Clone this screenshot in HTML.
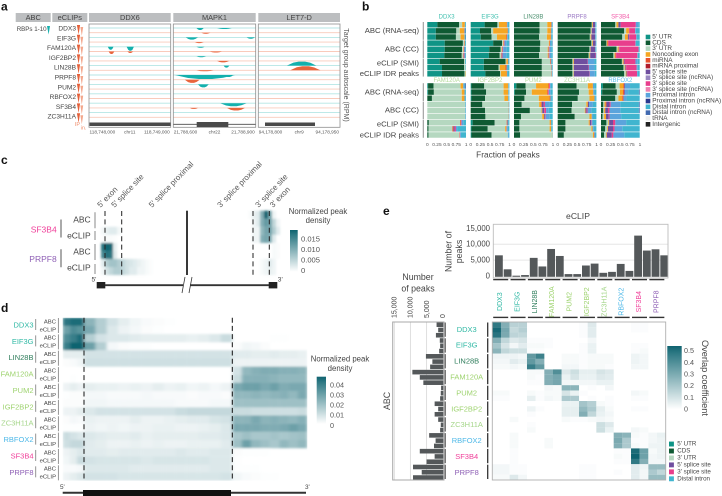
<!DOCTYPE html>
<html lang="en">
<head>
<meta charset="utf-8">
<title>RBP peak panels</title>
<style>
html,body{margin:0;padding:0;background:#fff;}
svg{display:block;font-family:"Liberation Sans",sans-serif;}
text{fill:#4a4a4a;}
</style>
</head>
<body>
<svg id="fig" width="722" height="496" viewBox="0 0 722 496" xmlns="http://www.w3.org/2000/svg">
<defs>
<filter id="blurC" x="-10%" y="-10%" width="120%" height="120%"><feGaussianBlur stdDeviation="1.1"/></filter>
<filter id="blurD" x="-5%" y="-5%" width="110%" height="110%"><feGaussianBlur stdDeviation="1.6 1"/></filter>
<clipPath id="clipD"><rect x="62.7" y="317.7" width="244.6" height="163"/></clipPath>
<linearGradient id="legendGrad" x1="0" y1="1" x2="0" y2="0"><stop offset="0" stop-color="#fff"/><stop offset="0.88" stop-color="#2f7a85"/><stop offset="1" stop-color="#0f6370"/></linearGradient>
</defs>
<g id="panelA"></g>
<g id="panelB"></g>
<g id="panelC"></g>
<g id="panelD"></g>
<g id="panelE"></g>
</svg>
<script>
/* ---------- shared data ---------- */
const rbpOrderE = ["DDX3","EIF3G","LIN28B","FAM120A","PUM2","IGF2BP2","ZC3H11A","RBFOX2","SF3B4","PRPF8"];
const rbpColorsE = ["#2fb8a4","#2fb8a4","#2e7d5b","#9ed36f","#9ed36f","#9ed36f","#a5d68a","#4db8e8","#f0409a","#8e5fb5"];

/* panel a */
const aRbps = ["DDX3","EIF3G","FAM120A","IGF2BP2","LIN28B","PRPF8","PUM2","RBFOX2","SF3B4","ZC3H11A"];
const aLoci = ["DDX6","MAPK1","LET7-D"];
const aLeftTicks = ["118,748,000","21,788,600","94,178,800"];
const aChromosomes = ["chr11","chr22","chr9"];
const aRightTicks = ["118,749,000","21,788,900","94,178,950"];
/* peak: locus, track, start %, end %, height (negative = mound above line) */
const aPeaks = [
 [0,4,23,30,3],[0,4,46,55,4],[0,5,24,31,2.5],[0,5,47,54,1.5],
 [1,0,28,37,2],[1,0,53,71,1],[1,1,34,45,1],[1,2,15,30,2.2],[1,2,89,99,1.4],[1,3,26,37,1],
 [1,4,28,38,1],[1,5,44,59,1],[1,6,28,40,1],[1,7,53,68,1.5],[1,8,61,68,2],[1,9,28,49,1],
 [1,10,2,75,4],[1,10,61,73,2],[1,11,14,32,3.2],[1,12,30,43,3],[1,16,57,89,3],[1,17,65,87,2.6],[1,17,20,30,1],
 [2,8,35,71,-4],[2,9,39,76,-4]
];
/* panel b */
const bLegend = ["5' UTR","CDS","3' UTR","Noncoding exon","miRNA","miRNA proximal","5' splice site","5' splice site (ncRNA)","3' splice site","3' splice site (ncRNA)","Proximal intron","Proximal intron (ncRNA)","Distal intron","Distal intron (ncRNA)","tRNA","Intergenic"];
const bLegendColors = ["#0f9486","#0f5a33","#b5d8c0","#f5a623","#e8502e","#b11c2c","#6f4e9f","#9987c0","#e83e8c","#ef7fb0","#5ba4dc","#2b3a8f","#40b5cf","#4169b0","#eeeeee","#222222"];
const bSegmentIdx = [0,1,2,3,4,6,8,10,12];
const bGroupLabels = ["ABC (RNA-seq)","ABC (CC)","eCLIP (SMI)","eCLIP IDR peaks"];
const bTicks = ["0","0.25","0.5","0.75"];
const bTopNames = ["DDX3","EIF3G","LIN28B","PRPF8","SF3B4"];
const bTopColors = ["#3fbfae","#3fbfae","#4a8f6e","#9a78c4","#f25aa8"];
const bBottomNames = ["FAM120A","IGF2BP2","PUM2","ZC3H11A","RBFOX2"];
const bBottomColors = ["#b4d99a","#b4d99a","#b4d99a","#b9dca6","#5cc0ea"];
/* each row: 5'UTR, CDS, 3'UTR, ncExon, miRNA, 5'ss, 3'ss, prox, distal */
const bDDX3 = [[.26,.56,.08,.07,0,0,0,.01,.02],[.22,.53,.09,.11,.01,0,0,.01,.02],[.22,.52,.12,.1,0,0,0,.01,.02],[.45,.47,.03,.01,.01,0,0,.01,.02],[.45,.45,.03,.01,.01,.01,0,.02,.02],[.44,.45,.03,.01,.01,.01,.01,.02,.02],[.32,.63,.03,0,0,0,0,0,.02],[.38,.57,.04,0,0,0,0,0,.01],[.38,.58,.03,.01,0,0,0,0,0]];
const bEIF3G = [[.36,.33,.04,.2,.01,0,0,.02,.04],[.24,.29,.05,.37,.01,0,0,.01,.03],[.26,.28,.14,.24,.02,0,0,.02,.04],[.58,.23,.03,.01,.01,.01,.01,.05,.06],[.48,.29,.03,.01,.01,.01,.01,.08,.08],[.47,.28,.03,.01,.01,.02,.01,.09,.08],[.34,.56,.02,.04,.01,0,0,0,.03],[.34,.38,.03,.15,.03,0,0,.02,.05],[.38,.38,.02,.15,.01,0,0,.01,.05]];
const bLIN28B = [[0,.66,.2,.1,.01,0,0,.01,.02],[0,.66,.2,.09,.01,0,0,.01,.03],[0,.65,.2,.1,.01,0,0,.01,.03],[0,.68,.22,.02,.01,0,0,.03,.03],[0,.67,.2,.02,.01,.01,.01,.04,.04],[0,.65,.22,.02,.01,.01,.01,.04,.04],[0,.72,.22,0,.02,0,0,.01,.03],[0,.72,.24,0,.01,0,0,.01,.02],[0,.72,.25,0,.01,0,0,.01,.01]];
const bPRPF8 = [[0,.88,.01,.02,0,.06,0,.01,.02],[0,.85,.02,.01,0,.09,0,.01,.02],[0,.83,.02,.02,0,.1,0,.01,.02],[0,.87,.02,.02,0,.07,0,.01,.01],[0,.82,.02,.01,0,.12,0,.01,.02],[0,.8,.02,.02,0,.14,.01,0,.01],[0,.38,.02,.02,0,.35,.01,.17,.05],[0,.38,.03,.01,0,.38,.01,.14,.05],[0,.38,.03,.01,0,.4,.01,.13,.04]];
const bSF3B4 = [[0,.37,.03,.05,0,.06,.39,.06,.04],[0,.6,.05,.07,.01,0,.15,.02,.1],[0,.55,.07,.07,.01,.03,.18,.02,.07],[0,.14,.01,.02,.02,0,.7,.01,.1],[0,.4,.03,.03,0,.01,.5,.01,.02],[0,.32,.03,.02,.02,0,.55,.01,.05],[0,.54,.02,.02,.01,.02,.28,.06,.05],[0,.58,.03,.02,0,.02,.27,.03,.05],[0,.6,.04,.02,0,.02,.25,.02,.05]];
const bFAM120A = [[.02,.14,.7,.07,0,0,0,.03,.02],[.02,.15,.72,.07,0,0,0,.02,.02],[0,.12,.77,.07,0,0,0,.02,.02],[0,0,.98,0,0,0,0,.01,.01],[0,0,.98,0,0,0,0,.01,.01],[0,0,.98,0,0,0,0,.01,.01],[0,.04,.81,0,.02,.01,.01,.04,.07],[0,.03,.62,0,.03,.03,.03,.03,.23],[0,.03,.8,0,.01,0,.01,.02,.13]];
const bIGF2BP2 = [[.02,.33,.5,.12,0,0,0,.01,.02],[.02,.38,.45,.12,0,0,0,.01,.02],[.02,.35,.5,.1,0,0,0,.01,.02],[0,.3,.67,.01,0,0,0,.01,.01],[0,.37,.6,.01,0,0,0,.01,.01],[0,.38,.59,.01,0,0,0,.01,.01],[.05,.57,.31,0,.02,0,0,.02,.03],[.02,.42,.45,.03,.01,0,0,.03,.04],[.02,.52,.42,0,0,0,0,.02,.02]];
const bPUM2 = [[.06,.24,.27,.32,.02,0,.02,.02,.05],[.02,.29,.15,.4,.02,0,.02,.05,.05],[0,.27,.37,.28,.02,0,0,.02,.04],[0,.2,.45,.05,.02,.05,.03,.12,.08],[0,.41,.3,.02,.0,.05,.05,.07,.1],[0,.18,.55,.05,0,.03,.01,.1,.08],[0,.14,.78,.03,.01,0,0,0,.04],[0,.14,.78,.04,0,0,0,.01,.03],[0,.16,.82,.01,0,0,0,0,.01]];
const bZC3H11A = [[0,.49,.29,.13,0,0,0,.03,.06],[0,.55,.25,.12,0,0,0,.03,.05],[0,.52,.3,.13,0,0,0,.02,.03],[0,.37,.37,.04,0,.03,0,.1,.09],[0,.36,.34,.02,0,.03,.02,.1,.13],[0,.44,.38,.06,0,0,0,.03,.09],[0,.2,.6,.03,0,.04,.01,.03,.09],[0,.2,.67,.03,0,0,0,.03,.07],[0,.16,.75,.03,0,0,.01,0,.05]];
const bRBFOX2 = [[.05,.33,.1,.1,.02,.02,0,.13,.25],[.03,.38,.08,.08,.03,.02,0,.08,.28],[0,.37,.08,.1,.03,0,0,.08,.34],[0,.06,.03,.03,.02,.08,.03,.25,.48],[0,.06,.02,.03,0,.07,.04,.28,.48],[0,.04,.04,.05,0,.07,.02,.3,.48],[0,.14,.05,.02,0,.1,.06,.28,.35],[0,.11,.05,.02,0,.13,.04,.2,.45],[0,.08,.05,.02,0,.13,.04,.28,.4]];
const bTopPanels = [bDDX3,bEIF3G,bLIN28B,bPRPF8,bSF3B4];
const bBottomPanels = [bFAM120A,bIGF2BP2,bPUM2,bZC3H11A,bRBFOX2];

/* panel c : density per bin, left of exon block and right of it */
const cLeftDensity = [
 [0,0,0,0,0,0,0,0,0,0,0,0,0,0,0,0],
 [0,0,0,0,0,0,0,0,0,0,0,0,0,0,0,0],
 [0,.0008,.0015,.002,.002,.0008,0,0,0,0,0,0,0,0,0,0],
 [0,.0002,.0004,.0004,.0002,0,0,0,0,0,0,0,0,0,0,0],
 [0,.014,.0155,.015,.0015,0,0,0,0,0,0,0,0,0,0,0],
 [0,.012,.014,.0135,.002,0,0,0,0,0,0,0,0,0,0,0],
 [0,.002,.005,.006,.006,.005,.004,.003,.0025,.002,.0015,.001,.0005,.0002,0,0],
 [0,.001,.003,.004,.005,.005,.004,.003,.002,.002,.001,.001,.0005,.0002,0,0]
];
const cRightDensity = [
 [0,0,.0003,.0015,.002,.008,.0155,.009,.001,0],
 [0,0,0,.001,.002,.008,.01,.009,.004,.001],
 [0,0,0,.001,.001,.007,.009,.009,.005,.002],
 [0,0,0,.001,.001,.008,.009,.008,.002,0],
 [0,0,0,0,0,0,0,0,.0005,.0003],
 [0,0,0,0,0,0,0,0,.0005,.0003],
 [0,0,0,0,0,.0005,.001,.002,.001,0],
 [0,0,0,0,0,.0005,.001,.0015,.001,0]
];
const cSiteLabels = ["5' exon","5' splice site","5' splice proximal","3' splice proximal","3' splice site","3' exon"];
const cLegendTicks = ["0.015","0.010","0.005","0"];
const cLegendValues = [.015,.01,.005,0];

/* panel d: density x1000: 3 bins 5'UTR, 13 bins CDS, 8 bins 3'UTR */
const dDensity = [
 [40,42,42, 25,18,12,8,5,3,2,1,0,0,0,0,0, 0,0,0,0,0,0,0,0],
 [30,35,33, 28,18,10,6,4,2,1,0,0,0,0,0,0, 0,0,0,0,0,0,0,0],
 [35,38,42, 18,12,10,10,9,8,8,8,8,7,8,10,14, 0,0,0,0,1,1,0,0],
 [38,44,44, 30,18,4,2,1,1,0,0,0,0,0,0,0, 2,5,4,2,0,0,0,0],
 [8,8,8, 12,12,12,12,12,12,12,12,12,12,12,12,12, 9,9,8,8,9,8,8,7],
 [2,3,5, 13,13,13,13,13,13,13,13,13,13,13,13,13, 6,6,6,6,6,6,6,6],
 [0,0,0, 0,0,0,0,0,0,0,0,0,0,0,0,0, 12,24,26,27,27,26,26,25],
 [0,1,0, 0,0,0,0,0,0,0,0,0,0,0,0,0, 14,26,26,26,25,24,24,24],
 [6,8,6, 8,7,7,6,7,6,8,6,7,5,6,4,6, 28,30,30,28,30,27,28,28],
 [1,2,2, 4,4,3,3,3,4,3,3,3,2,3,3,2, 24,24,25,24,25,26,24,28],
 [2,2,2, 5,5,4,4,4,4,4,4,3,3,3,4,4, 22,22,22,22,22,22,22,22],
 [6,6,8, 10,12,12,12,12,12,12,12,14,15,15,15,15, 14,14,13,13,13,13,13,14],
 [2,4,3, 7,6,6,6,8,6,6,7,8,9,9,11,12, 25,25,28,25,26,25,24,26],
 [1,1,1, 6,5,6,5,6,6,7,7,6,6,7,8,10, 28,28,28,27,27,28,30,28],
 [14,12,10, 10,9,8,8,9,7,8,8,8,8,9,9,10, 20,22,20,20,21,20,21,22],
 [13,15,15, 9,8,6,6,7,6,7,6,6,7,7,7,9, 22,30,24,22,20,24,22,24],
 [6,8,10, 9,9,8,9,9,9,9,9,10,9,9,10,10, 2,1,1,1,0,0,0,0],
 [5,8,14, 12,11,11,11,11,10,11,11,11,11,11,10,10, 1,0,0,0,0,0,0,0],
 [3,3,4, 10,10,10,10,9,9,9,9,9,9,9,10,10, 1,1,1,0,0,0,0,0],
 [6,8,10, 12,12,12,11,11,11,11,11,11,11,11,11,12, 5,3,2,1,1,0,0,0]
];
const dRbps = ["DDX3","EIF3G","LIN28B","FAM120A","PUM2","IGF2BP2","ZC3H11A","RBFOX2","SF3B4","PRPF8"];
const dRbpColors = ["#2fb8a4","#2fb8a4","#2e7d5b","#9ed36f","#9ed36f","#9ed36f","#a5d68a","#4db8e8","#f0409a","#8e5fb5"];
const dLegendTicks = ["0.04","0.03","0.02","0.01","0"];
const dLegendValues = [.04,.03,.02,.01,0];

/* panel e */
const eclipPeaks = [6500,2100,100,300,5700,3000,8500,6300,600,600,3300,3900,1000,1300,3800,1600,12700,8000,8400,6500];
const abcPeaks = [1900,1400,2100,900,800,1100,5200,3200,3900,9400,7100,6000,500,600,800,2500,1400,2500,1400,600,800,4200,2200,2700,7100,2500,5000,9200,6500,9200];
const ePeakTicks = ["15,000","10,000","5,000","0"];
const ePeakTickValues = [15000,10000,5000,0];
const eLegendValues = [.5,.4,.3,.2,.1,0];
const eRegionNames = ["5' UTR","CDS","3' UTR","5' splice site","3' splice site","Distal intron"];
const eRegionColors = ["#0f9486","#0f5a33","#b5d8c0","#6f4e9f","#e83e8c","#40b5cf"];
const rowsDDX3 = [
 [.50,.30,.17,.17,0,0,0,0,0,0,.01,.08,0,0,0,0,.01,.01,0,0],
 [.56,.33,.14,.18,0,0,0,0,0,0,.01,.07,0,0,0,0,.01,.01,0,0],
 [.52,.32,.16,.15,0,0,0,0,0,0,.01,.07,0,0,0,0,0,0,0,0]];
const rowsEIF3G = [
 [.30,.15,.08,.10,.01,.01,.01,0,0,0,0,.03,0,0,0,0,0,0,0,0],
 [.22,.10,.03,.07,.02,.02,.01,0,0,0,.01,.05,0,0,0,0,.01,.01,0,0],
 [.28,.15,.12,.12,.01,.01,0,0,0,0,.01,.05,0,0,0,0,.01,.02,0,0]];
const rowsLIN28B = [
 [.04,.04,.04,.03,.38,.47,0,0,.02,.02,.01,.02,.02,.02,0,0,.04,.03,0,0],
 [.03,.03,.07,.05,.38,.30,0,0,.02,.02,.01,.02,.02,.02,0,0,.04,.03,0,0],
 [.02,.02,.03,.02,.48,.38,0,0,.03,.03,.01,.02,.02,.01,0,0,.03,.03,0,0]];
const rowsFAM120A = [
 [0,0,0,0,.02,.02,.30,.42,.08,.12,.06,.06,.10,.08,0,0,0,0,0,0],
 [0,0,0,0,.02,.01,.30,.33,.05,.10,.05,.05,.08,.07,0,0,0,0,0,0],
 [0,0,0,0,.01,.01,.30,.33,.03,.03,.03,.03,.05,.05,0,0,0,0,0,0]];
const rowsPUM2 = [
 [0,0,0,0,0,0,.03,.02,.28,.28,0,.01,0,.03,0,0,0,0,0,0],
 [.02,.02,0,0,.02,.01,.02,.02,.10,.05,.01,0,0,0,0,0,.03,.02,0,0],
 [.01,.01,0,0,.06,.01,.03,.02,.20,.20,0,.01,0,.01,0,0,.01,.01,0,0]];
const rowsIGF2BP2 = [
 [0,0,0,0,0,0,0,0,.05,.05,.22,.18,.02,.01,0,0,0,0,0,0],
 [0,0,0,0,.04,.01,0,0,.06,.06,.26,.20,.06,.02,0,0,.01,.01,0,0],
 [0,0,0,0,.01,0,0,0,.06,.06,.30,.15,.05,.03,0,0,0,0,0,0]];
const rowsZC3H11A = [
 [0,0,.02,0,0,0,0,0,.02,.01,.01,.02,.03,.02,0,0,0,0,0,0],
 [0,0,0,0,.01,0,0,0,0,0,0,0,.12,.08,0,0,0,0,0,0],
 [0,0,0,0,.02,0,0,0,0,0,0,0,.12,.05,0,0,.03,.02,0,0]];
const rowsRBFOX2 = [
 [0,0,.02,0,0,0,0,0,0,0,0,0,0,0,.30,.28,.02,.01,.03,.05],
 [0,0,.02,0,0,0,.02,0,0,0,0,0,0,0,.32,.20,.01,.01,.03,.04],
 [0,0,.02,0,0,0,.02,0,0,0,0,0,0,0,.30,.20,.02,.01,.04,.04]];
const rowsSF3B4 = [
 [0,0,.01,0,0,0,0,0,0,0,0,0,0,0,.01,.01,.55,.35,.02,.04],
 [0,0,.01,0,0,0,0,0,0,0,0,0,0,0,.02,.01,.60,.35,.03,.04],
 [0,0,.01,0,0,0,0,0,0,0,0,0,0,0,.01,.01,.50,.30,.03,.03]];
const rowsPRPF8 = [
 [.03,.03,.01,.01,0,0,0,0,0,0,.01,.01,0,0,0,0,.07,.04,.25,.25],
 [.03,.03,.01,.01,0,0,0,0,0,0,.01,.01,0,0,.01,0,.07,.03,.20,.15],
 [.02,.02,.08,.03,0,0,0,0,0,0,.01,.01,0,0,0,0,.07,.03,.25,.25]];
const overlapGroups = [rowsDDX3,rowsEIF3G,rowsLIN28B,rowsFAM120A,rowsPUM2,rowsIGF2BP2,rowsZC3H11A,rowsRBFOX2,rowsSF3B4,rowsPRPF8];

/* ---------- helpers ---------- */
const NS = "http://www.w3.org/2000/svg";
function mk(parent, tag, attrs){
  const el = document.createElementNS(NS, tag);
  for(const k in attrs){ el.setAttribute(k, attrs[k]); }
  parent.appendChild(el);
  return el;
}
function txt(parent, str, x, y, size, anchor, fill, rot){
  const el = mk(parent, "text", {x:x, y:y, "font-size":size, "text-anchor":anchor||"start", "dominant-baseline":"central"});
  el.textContent = str;
  el.style.fill = fill || "#4a4a4a";
  if(rot !== undefined){ el.setAttribute("transform", "rotate("+rot+" "+x+" "+y+")"); }
  return el;
}
function heat(t){
  const v = Math.max(0, Math.min(1, t));
  const r = Math.round(255 + (15-255)*v), g = Math.round(255 + (99-255)*v), b = Math.round(255 + (112-255)*v);
  return "rgb("+r+","+g+","+b+")";
}
function line(parent, x1, y1, x2, y2, stroke, w, dash){
  const el = mk(parent, "line", {x1:x1, y1:y1, x2:x2, y2:y2, stroke:stroke, "stroke-width":w});
  if(dash){ el.setAttribute("stroke-dasharray", dash); }
  return el;
}
const root = id => document.getElementById(id);

/* ---------- panel letters ---------- */
const panelLetters = ["a","b","c","d","e"];
const panelLetterX = [1,362,1,1,383];
const panelLetterY = [6.5,6.5,160,308,211];
panelLetters.forEach((s,i)=>{
  const t = txt(root("fig"), s, panelLetterX[i], panelLetterY[i], 12, "start", "#111");
  
  
  t.setAttribute("font-weight", "bold");
});

/* ---------- panel a ---------- */
(function(){
  const g = root("panelA");
  const headX = [15.7,52.3,89,173.3,258.3], headW = [35,35,81.7,82.4,81.7];
  const headT = ["ABC","eCLIPs"].concat(aLoci);
  headT.forEach((s,i)=>{
    const r = mk(g,"rect",{x:headX[i],y:13,width:headW[i],height:9,fill:"#bcbec0"});
    
    
    const t = txt(g,s,headX[i]+headW[i]/2,17.6,7.4,"middle","#444");
    
    
  });
  const plotX = [89,173.3,258.3], plotW = [81.7,82.4,81.7];
  const trackY = i => 28 + i*4.7;
  const posX = (l,p) => plotX[l] + p/100*plotW[l];
  aLoci.forEach((n,l)=>{
    for(let i=0;i<20;i++){
      const li = line(g,plotX[l],trackY(i),plotX[l]+plotW[l],trackY(i), i%2? "#f9cbbb":"#b5e6e4", 0.9);
      
      
    }
    const fr = mk(g,"rect",{x:plotX[l],y:24,width:plotW[l],height:103.3,fill:"none",stroke:"#8f8f8f","stroke-width":0.8});
    
    
    const a = txt(g,aLeftTicks[l],plotX[l]+0.5,132,4.7,"start","#555");
    
    
    const b = txt(g,aChromosomes[l],plotX[l]+plotW[l]/2,132,4.7,"middle","#555");
    
    
    const c = txt(g,aRightTicks[l],plotX[l]+plotW[l]-1,132,4.7,"end","#555");
    
    
  });
  aPeaks.forEach(p=>{
    const x0=posX(p[0],p[2]), x1=posX(p[0],p[3]), y=trackY(p[1]), h=p[4], w=x1-x0;
    const pts=[[x0,y],[x0+w*.22,y+h*.75],[x0+w*.4,y+h],[x0+w*.62,y+h],[x0+w*.8,y+h*.7],[x1,y]].map(a=>a[0].toFixed(1)+","+a[1].toFixed(1)).join(" ");
    const pg = mk(g,"polygon",{points:pts,fill:p[1]%2?"#e8653d":"#14b0ad"});
    
    
  });
  /* gene models */
  const d = mk(g,"rect",{x:89.5,y:122.5,width:81,height:3.5,fill:"#4a4a4a"});
  
  
  const l1 = line(g,173.5,124.3,255.5,124.3,"#4a4a4a",0.8);
  
  
  const m = mk(g,"rect",{x:196.7,y:122,width:31.6,height:5,fill:"#4a4a4a"});
  
  
  const n = mk(g,"rect",{x:265,y:122.5,width:50,height:3.5,fill:"#4a4a4a"});
  
  
  /* rbp labels & wedges */
  aRbps.forEach((s,i)=>{
    const y = 29 + i*9.8;
    const t = txt(g,s,76,y,6.6,"end","#444");
    
    
    const w1 = mk(g,"polygon",{points:(76.9)+","+(y-4)+" "+(80.1)+","+(y-4)+" "+(78.6)+","+(y+5.5),fill:"#e4603a"});
    
    
    const w2 = mk(g,"polygon",{points:(80.4)+","+(y-2)+" "+(83.2)+","+(y-2)+" "+(81.8)+","+(y+7),fill:"#f3a78c"});
    
    
  });
  const ab = txt(g,"RBPs 1-10",16.7,29.3,6.2,"start","#444");
  
  
  const wt = mk(g,"polygon",{points:"47,26 50,26 48.6,34.5",fill:"#14b0ad"});
  
  
  const ip = txt(g,"IP",74.8,125,5.5,"start","#f0916f");
  
  
  const inp = txt(g,"in.",80.6,128.6,5.5,"start","#f0916f");
  
  
  const ra = txt(g,"Target group autoscale (RPM)",345.5,75,7,"middle","#555",90);
  
  
})();

/* ---------- panel b ---------- */
(function(){
  const g = root("panelB");
  const panelX = [427.3,470.7,514,557.7,601], panelW = 38.7;
  const xOf = (p,v) => panelX[p] + v*panelW;
  function drawBlock(panels, names, colors, top, titleY){
    const pitch = 6.13;
    panels.forEach((rows,p)=>{
      const tt = txt(g,names[p],panelX[p]+panelW/2,titleY,6,"middle",colors[p]);
      
      
      rows.forEach((row,r)=>{
        const y = top + r*pitch;
        const sum = row.reduce((a,b)=>a+b,0), norm = Math.max(sum,1);
        let acc = 0;
        row.forEach((v,k)=>{
          if(v<=0) return;
          const rect = mk(g,"rect",{x:xOf(p,acc/norm).toFixed(2),y:y.toFixed(2),width:(v/norm*panelW).toFixed(2),height:5.5,fill:bLegendColors[bSegmentIdx[k]]});
          
          
          acc += v;
        });
        if(sum<1){
          const rest = mk(g,"rect",{x:xOf(p,sum).toFixed(2),y:y.toFixed(2),width:((1-sum)*panelW).toFixed(2),height:5.5,fill:"#4169b0"});
          
          
        }
      });
    });
    const groupY = [top+8.7, top+27, top+41, top+51.7];
    bGroupLabels.forEach((s,i)=>{
      const t = txt(g,s,419,groupY[i],7.7,"end","#444");
      
      
    });
    [[0,3],[3,6],[6,9]].forEach(sp=>{
      const v = line(g,423.3,top+sp[0]*pitch,423.3,top+sp[1]*pitch-0.6,"#9a9a9a",1.1);
      
      
    });
  }
  drawBlock(bTopPanels,bTopNames,bTopColors,22,17.6);
  drawBlock(bBottomPanels,bBottomNames,bBottomColors,83.2,81);
  panelX.forEach((x,p)=>{
    bTicks.forEach((s,i)=>{
      const t = txt(g,s,xOf(p,i*0.25),145.3,4.8,"middle","#555");
      
      
    });
    const e = txt(g,"1",xOf(p,1)+0.2,145.3,4.8,"middle","#555");
    
    
  });
  const xt = txt(g,"Fraction of peaks",508,154.5,8.3,"middle","#444");
  
  
  bLegend.forEach((s,i)=>{
    const y = 37 + i*5.82;
    const sw = mk(g,"rect",{x:645.7,y:y-2.3,width:4.6,height:4.6,fill:bLegendColors[i]});
    
    
    const t = txt(g,s,652.3,y,6.4,"start","#444");
    
    
  });
})();

/* ---------- panel c ---------- */
(function(){
  const g = root("panelC");
  const hg = mk(g,"g",{filter:"url(#blurC)"});
  
  
  const rowY = r => 210.7 + r*8.04, leftX = c => 97 + c*4, rightX = c => 240 + c*4;
  const maxV = 0.0155;
  [[cLeftDensity,leftX],[cRightDensity,rightX]].forEach(pair=>{
    pair[0].forEach((row,r)=>row.forEach((v,c)=>{
      if(v<=0) return;
      const cell = mk(hg,"rect",{x:pair[1](c),y:rowY(r),width:4.1,height:8.1,fill:heat(v/maxV)});
      
      
    }));
  });
  [105,121.7,253,269.3].forEach(x=>{
    const d = line(g,x,211,x,275,"#222",1,"5 3.4");
    
    
  });
  const mid = line(g,187,210.7,187,275,"#222",1.8);
  
  
  const tx = [100.5,114.5,152,220.5,258.5,273];
  cSiteLabels.forEach((s,i)=>{
    const t = mk(g,"text",{x:tx[i],y:208,"font-size":7.9,transform:"rotate(-46 "+tx[i]+" 208)"});
    t.textContent = s;
    t.style.fill = "#555";
    
    
  });
  const labs = ["ABC","eCLIP","ABC","eCLIP"], ly = [219.3,235.7,251.7,267.7];
  labs.forEach((s,i)=>{
    const t = txt(g,s,90.7,ly[i],8.5,"end","#444");
    
    
  });
  [[212.3,228.3],[231,240],[244,260],[264,274]].forEach(s=>{
    const v = line(g,95,s[0],95,s[1],"#888",1);
    
    
  });
  const sf = txt(g,"SF3B4",56.7,229.3,8.5,"end","#f0409a");
  
  
  const pr = txt(g,"PRPF8",56.7,259,8.5,"end","#8e5fb5");
  
  
  [[219.5,237.5],[249.3,267.3]].forEach(s=>{
    const v = line(g,61,s[0],61,s[1],"#555",1);
    
    
  });
  /* gene cartoon */
  const b1 = mk(g,"rect",{x:96.7,y:282,width:8.6,height:6.4,fill:"#222"});
  
  
  const b2 = mk(g,"rect",{x:268.7,y:282,width:8.6,height:6.4,fill:"#222"});
  
  
  const l1 = line(g,105,285.2,183,285.2,"#333",1.8);
  
  
  const l2 = line(g,190,285.2,269,285.2,"#333",1.8);
  
  
  const s1 = line(g,182,293,185,277,"#333",0.8);
  
  
  const s2 = line(g,189,293,192,277,"#333",0.8);
  
  
  const f = txt(g,"5'",91.5,280,6.6,"start","#444");
  
  
  const th = txt(g,"3'",277.8,280,6.6,"start","#444");
  
  
  /* legend */
  const t1 = txt(g,"Normalized peak",318,211.3,7.8,"middle","#444");
  
  
  const t2 = txt(g,"density",318,220.3,7.8,"middle","#444");
  
  
  const bar = mk(g,"rect",{x:290,y:230,width:7.7,height:41.7,fill:"url(#legendGrad)"});
  
  
  const ty = v => 270.3 - v/0.015*31.3;
  cLegendTicks.forEach((s,i)=>{
    const t = txt(g,s,301,ty(cLegendValues[i]),7.6,"start","#555");
    
    
  });
})();

/* ---------- panel d ---------- */
(function(){
  const g = root("panelD");
  const clip = mk(g,"g",{"clip-path":"url(#clipD)"});
  
  
  const hg = mk(clip,"g",{filter:"url(#blurD)"});
  
  
  const rowH = 163/20;
  const colX = c => c<3 ? 62.7 + c*7.1 : c<16 ? 84 + (c-3)*(148.3/13) : 232.3 + (c-16)*(75/8);
  const colW = c => c<3 ? 7.2 : c<16 ? 148.3/13+.1 : 75/8+.1;
  dDensity.forEach((row,r)=>row.forEach((v,c)=>{
    if(v<=0) return;
    const cell = mk(hg,"rect",{x:colX(c).toFixed(2),y:(317.7+r*rowH).toFixed(2),width:colW(c).toFixed(2),height:(rowH+.1).toFixed(2),fill:heat(Math.pow(v/44,1.3))});
    
    
  }));
  [84,232.3].forEach(x=>{
    const d = line(g,x,317.7,x,481,"#111",1,"5 3.2");
    
    
  });
  dRbps.forEach((s,i)=>{
    const cy = 325 + i*16.37;
    const t = txt(g,s,33.5,cy,7.5,"end",dRbpColors[i]);
    
    
    const a = txt(g,"ABC",56,cy-2.7,5.9,"end","#444");
    
    
    const e = txt(g,"eCLIP",56,cy+5.3,5.9,"end","#444");
    
    
    const v1 = line(g,35.7,cy-6,35.7,cy+5,"#888",0.9);
    
    
    const v2 = line(g,58.3,cy-7,58.3,cy+8,"#666",0.7);
    
    
  });
  const f = txt(g,"5'",60,487.3,6.4,"start","#444");
  
  
  const th = txt(g,"3'",305,487.3,6.4,"start","#444");
  
  
  const axis = line(g,62.7,492.8,306,492.8,"#333",2);
  
  
  const cds = mk(g,"rect",{x:83,y:490,width:148,height:6,fill:"#111"});
  
  
  const t1 = txt(g,"Normalized peak",340,359,7.8,"middle","#444");
  
  
  const t2 = txt(g,"density",340,368.3,7.8,"middle","#444");
  
  
  const bar = mk(g,"rect",{x:316.7,y:376.7,width:9.3,height:47.3,fill:"url(#legendGrad)"});
  
  
  const ty = v => 425.3 - v/0.04*40.3;
  dLegendTicks.forEach((s,i)=>{
    const t = txt(g,s,330,ty(dLegendValues[i]),7.2,"start","#555");
    
    
  });
})();

/* ---------- panel e ---------- */
(function(){
  const g = root("panelE");
  /* top bars */
  const topY = v => 276 - v/15000*47.7;
  const topX = i => 495 + i*8.7;
  [10000,5000].forEach(v=>{
    const gl = line(g,493.3,topY(v),668,topY(v),"#e6e6e6",1);
    
    
  });
  eclipPeaks.forEach((v,i)=>{
    const r = mk(g,"rect",{x:topX(i).toFixed(2),y:topY(v).toFixed(2),width:7.8,height:(276.8-topY(v)).toFixed(2),fill:"#54585a"});
    
    
  });
  const tf = mk(g,"rect",{x:493.3,y:224.3,width:174.7,height:53.7,fill:"none",stroke:"#bdbdbd","stroke-width":0.9});
  
  
  ePeakTicks.forEach((s,i)=>{
    const t = txt(g,s,490,topY(ePeakTickValues[i]),7.8,"end","#444");
    
    
  });
  const et = txt(g,"eCLIP",578,216,8.6,"middle","#444");
  
  
  const yt1 = txt(g,"Number of",448.5,251.5,8.8,"middle","#444",-90);
  
  
  const yt2 = txt(g,"peaks",459,251.5,8.8,"middle","#444",-90);
  
  
  /* column labels */
  rbpOrderE.forEach((s,i)=>{
    const cx = 500.7 + i*17.35;
    const t = txt(g,s,cx,301.7,7,"middle",rbpColorsE[i],-90);
    
    
    const b1 = line(g,cx-7.5,279.6,cx+7.5,279.6,"#333",1.4);
    
    
    const b2 = line(g,cx-7.5,317.4,cx+7.5,317.4,"#333",1.4);
    
    
    const ry = 329.3 + i*15.9;
    const rl = txt(g,s,466.7,ry,7.5,"middle",rbpColorsE[i]);
    
    
    const v1 = line(g,445.3,322.5+i*15.8,445.3,336.8+i*15.8,"#777",1.4);
    
    
    const v2 = line(g,487.7,322.5+i*15.8,487.7,336.8+i*15.8,"#333",1.3);
    
    
  });
  /* left bars */
  const leftX = v => 442.7 - v/15000*48.4;
  const leftY = i => 322.4 + i*5.27;
  [15000,10000,5000].forEach(v=>{
    const gl = line(g,leftX(v),322,leftX(v),480,"#dcdcdc",0.9);
    
    
  });
  abcPeaks.forEach((v,i)=>{
    const r = mk(g,"rect",{x:leftX(v).toFixed(2),y:leftY(i).toFixed(2),width:(443.3-leftX(v)).toFixed(2),height:4.6,fill:"#54585a"});
    
    
  });
  const lf = mk(g,"rect",{x:392.7,y:322,width:51.3,height:158,fill:"none",stroke:"#a8a8a8","stroke-width":1});
  
  
  ePeakTicks.forEach((s,i)=>{
    const x = leftX(ePeakTickValues[i]) + 0.8;
    const t = mk(g,"text",{x:x,y:318,"font-size":7,"text-anchor":"start","dominant-baseline":"central",transform:"rotate(-90 "+x+" 318)"});
    t.textContent = s;
    t.style.fill = "#444";
    
    
  });
  const n1 = txt(g,"Number",418,277,8.8,"middle","#444");
  
  
  const n2 = txt(g,"of peaks",418,288.5,8.8,"middle","#444");
  
  
  const ab = txt(g,"ABC",387,401,8.8,"middle","#444",-90);
  
  
  /* heatmap */
  const cellX = c => 492.3 + c*8.67, cellY = r => 322 + r*(158/30);
  overlapGroups.flat().forEach((row,r)=>row.forEach((v,c)=>{
    if(v<=0) return;
    const cell = mk(g,"rect",{x:cellX(c).toFixed(2),y:cellY(r).toFixed(2),width:8.7,height:5.3,fill:heat(v/0.58)});
    
    
  }));
  const hf = mk(g,"rect",{x:492.3,y:322,width:173.4,height:158,fill:"none",stroke:"#b0b0b0","stroke-width":0.9});
  
  
  /* legend */
  const bar = mk(g,"rect",{x:667.3,y:346,width:14.4,height:63.3,fill:"url(#legendGrad)"});
  
  
  const ly = v => 409 - v/0.5*58.3;
  eLegendValues.forEach(v=>{
    const t = txt(g,String(v),684,ly(v),7.2,"start","#555");
    
    
  });
  const ot = txt(g,"Overlap coefficient",705,378,9.2,"middle","#444",90);
  
  
  eRegionNames.forEach((s,i)=>{
    const y = 444 + i*6.95;
    const sw = mk(g,"rect",{x:669,y:y-2.4,width:4.9,height:4.9,fill:eRegionColors[i]});
    
    
    const t = txt(g,s,677.3,y,6.2,"start","#444");
    
    
  });
})();
</script>
</body>
</html>
